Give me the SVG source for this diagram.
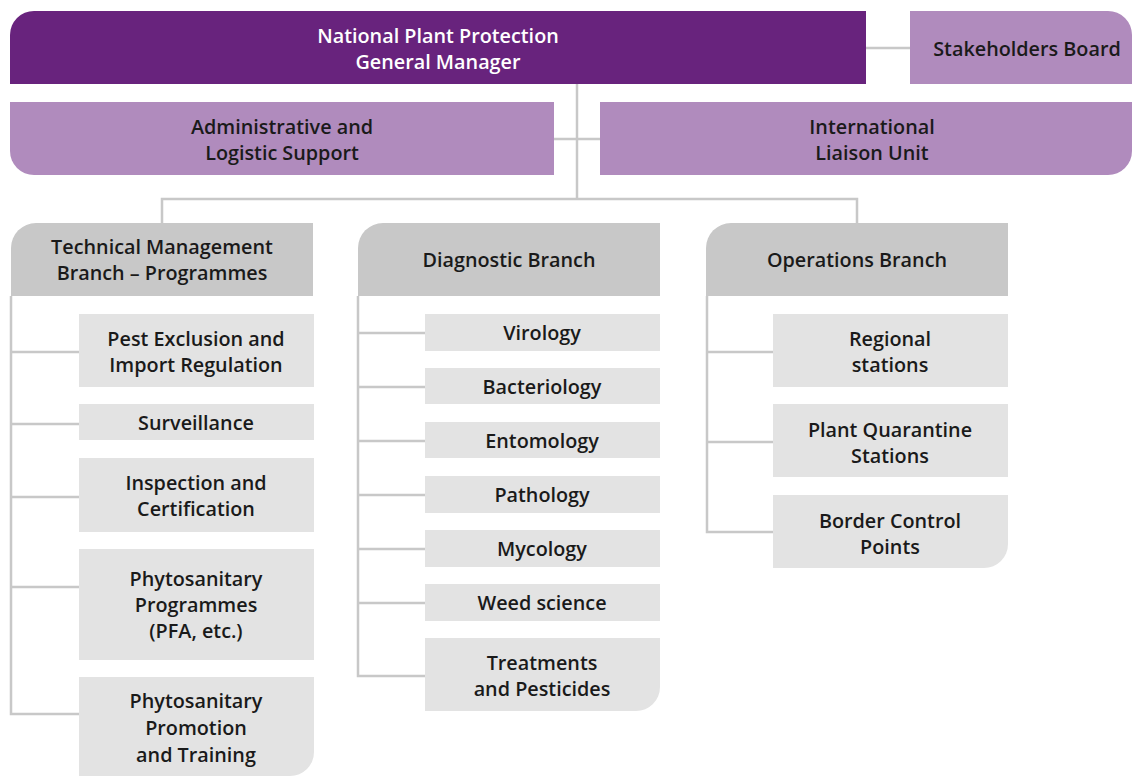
<svg xmlns="http://www.w3.org/2000/svg" width="1132" height="780" viewBox="0 0 1132 780">
<style>
.ln{stroke:#c8c8c8;stroke-width:2.5;fill:none}
.gm{fill:#68237d}
.lp{fill:#b08bbd}
.hd{fill:#c8c8c8}
.ch{fill:#e3e3e3}
text{font-family:"Open Sans","Noto Sans","Liberation Sans",sans-serif;font-weight:600;font-size:19.8px;fill:#1a1a1a;text-anchor:middle;dominant-baseline:central}
.w{fill:#ffffff}
</style>
<rect width="1132" height="780" fill="#ffffff"/>
<g id="connectors">
<line class="ln" x1="866" y1="48" x2="910" y2="48"/>
<line class="ln" x1="577" y1="84" x2="577" y2="199"/>
<line class="ln" x1="554" y1="139" x2="600" y2="139"/>
<polyline class="ln" points="162,223 162,199 857,199 857,223"/>
<polyline class="ln" points="11,296 11,714 79,714"/>
<line class="ln" x1="11" y1="352" x2="79" y2="352"/>
<line class="ln" x1="11" y1="424" x2="79" y2="424"/>
<line class="ln" x1="11" y1="497" x2="79" y2="497"/>
<line class="ln" x1="11" y1="587" x2="79" y2="587"/>
<polyline class="ln" points="358,296 358,676 425,676"/>
<line class="ln" x1="358" y1="333" x2="425" y2="333"/>
<line class="ln" x1="358" y1="387" x2="425" y2="387"/>
<line class="ln" x1="358" y1="441" x2="425" y2="441"/>
<line class="ln" x1="358" y1="495" x2="425" y2="495"/>
<line class="ln" x1="358" y1="549" x2="425" y2="549"/>
<line class="ln" x1="358" y1="603" x2="425" y2="603"/>
<polyline class="ln" points="707,296 707,532 773,532"/>
<line class="ln" x1="707" y1="352" x2="773" y2="352"/>
<line class="ln" x1="707" y1="442" x2="773" y2="442"/>
</g>
<g id="gm">
<path class="gm" d="M10,84 V35 A24,24 0 0 1 34,11 H866 V84 Z"/>
<text class="w" x="438" y="35">National Plant Protection</text>
<text class="w" x="438" y="61">General Manager</text>
</g>
<g id="stakeholders">
<path class="lp" d="M910,11 H1108 A24,24 0 0 1 1132,35 V84 H910 Z"/>
<text x="1027" y="48">Stakeholders Board</text>
</g>
<g id="admin">
<path class="lp" d="M10,102 H554 V175 H34 A24,24 0 0 1 10,151 Z"/>
<text x="282" y="126">Administrative and</text>
<text x="282" y="152">Logistic Support</text>
</g>
<g id="liaison">
<path class="lp" d="M600,102 H1132 V151 A24,24 0 0 1 1108,175 H600 Z"/>
<text x="872" y="126">International</text>
<text x="872" y="152">Liaison Unit</text>
</g>
<g id="technical">
<path class="hd" d="M11,296 V248 A25,25 0 0 1 36,223 H313 V296 Z"/>
<text x="162" y="246">Technical Management</text>
<text x="162" y="272">Branch – Programmes</text>
</g>
<g id="diagnostic">
<path class="hd" d="M358,296 V248 A25,25 0 0 1 383,223 H660 V296 Z"/>
<text x="509" y="259">Diagnostic Branch</text>
</g>
<g id="operations">
<path class="hd" d="M706,296 V248 A25,25 0 0 1 731,223 H1008 V296 Z"/>
<text x="857" y="259">Operations Branch</text>
</g>
<g id="pest">
<rect class="ch" x="79" y="314" width="235" height="73"/>
<text x="196" y="338">Pest Exclusion and</text>
<text x="196" y="364">Import Regulation</text>
</g>
<g id="surveillance">
<rect class="ch" x="79" y="404" width="235" height="36"/>
<text x="196" y="422">Surveillance</text>
</g>
<g id="inspection">
<rect class="ch" x="79" y="458" width="235" height="74"/>
<text x="196" y="482">Inspection and</text>
<text x="196" y="508">Certification</text>
</g>
<g id="programmes">
<rect class="ch" x="79" y="549" width="235" height="111"/>
<text x="196" y="578">Phytosanitary</text>
<text x="196" y="604">Programmes</text>
<text x="196" y="630">(PFA, etc.)</text>
</g>
<g id="promotion">
<path class="ch" d="M79,677 H314 V752 A24,24 0 0 1 290,776 H79 Z"/>
<text x="196" y="700">Phytosanitary</text>
<text x="196" y="727">Promotion</text>
<text x="196" y="754">and Training</text>
</g>
<g id="virology">
<rect class="ch" x="425" y="314" width="235" height="37"/>
<text x="542" y="332">Virology</text>
</g>
<g id="bacteriology">
<rect class="ch" x="425" y="368" width="235" height="36"/>
<text x="542" y="386">Bacteriology</text>
</g>
<g id="entomology">
<rect class="ch" x="425" y="422" width="235" height="36"/>
<text x="542" y="440">Entomology</text>
</g>
<g id="pathology">
<rect class="ch" x="425" y="476" width="235" height="37"/>
<text x="542" y="494">Pathology</text>
</g>
<g id="mycology">
<rect class="ch" x="425" y="530" width="235" height="37"/>
<text x="542" y="548">Mycology</text>
</g>
<g id="weed">
<rect class="ch" x="425" y="584" width="235" height="37"/>
<text x="542" y="602">Weed science</text>
</g>
<g id="treatments">
<path class="ch" d="M425,638 H660 V687 A24,24 0 0 1 636,711 H425 Z"/>
<text x="542" y="662">Treatments</text>
<text x="542" y="688">and Pesticides</text>
</g>
<g id="regional">
<rect class="ch" x="773" y="314" width="235" height="73"/>
<text x="890" y="338">Regional</text>
<text x="890" y="364">stations</text>
</g>
<g id="quarantine">
<rect class="ch" x="773" y="404" width="235" height="73"/>
<text x="890" y="429">Plant Quarantine</text>
<text x="890" y="455">Stations</text>
</g>
<g id="border">
<path class="ch" d="M773,495 H1008 V544 A24,24 0 0 1 984,568 H773 Z"/>
<text x="890" y="520">Border Control</text>
<text x="890" y="546">Points</text>
</g>
</svg>
